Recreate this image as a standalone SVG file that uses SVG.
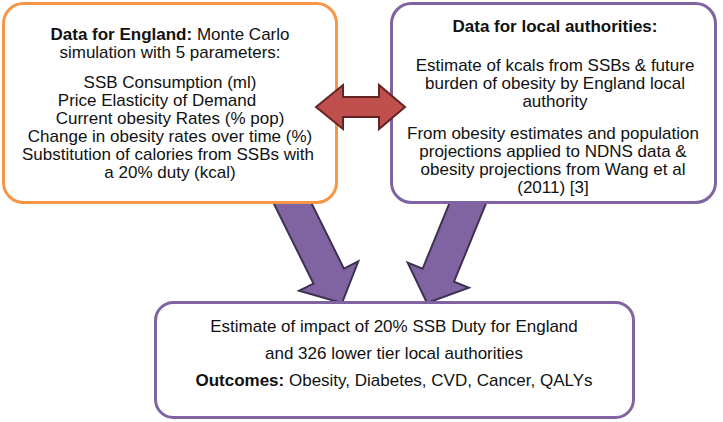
<svg xmlns="http://www.w3.org/2000/svg" width="723" height="422" viewBox="0 0 723 422">
<style>
text{font-family:"Liberation Sans",Arial,sans-serif;font-size:17px;fill:#111;text-anchor:middle}
.b{font-weight:bold}
.box{fill:#fff;stroke-width:3}
.org{stroke:#F79646}
.pur{stroke:#8064A2}
.arr{fill:#8064A2;stroke:#3F3151;stroke-width:2;stroke-linejoin:miter}
.red{fill:#C0504D;stroke:#632523;stroke-width:2}
</style>
<g id="connectors">
<polygon class="arr" points="300.2,180.5 343.9,268.6 358.3,261.4 342,303 299.1,290.8 313.5,283.6 269.8,195.5"/>
<polygon class="arr" points="489.7,194.4 454,281.6 468.9,287.7 427,303 407.7,262.7 422.6,268.8 458.3,181.6"/>
</g>
<g id="england">
<rect class="box org" x="3.5" y="3.5" width="333" height="199" rx="20"/>
<text x="170" y="40"><tspan class="b">Data for England:</tspan> Monte Carlo</text>
<text x="170" y="58">simulation with 5 parameters:</text>
<text x="170" y="88">SSB Consumption (ml)</text>
<text x="157" y="106">Price Elasticity of Demand</text>
<text x="170" y="124">Current obesity Rates (% pop)</text>
<text x="170" y="142">Change in obesity rates over time (%)</text>
<text x="168" y="160">Substitution of calories from SSBs with</text>
<text x="170" y="178">a 20% duty (kcal)</text>
</g>
<g id="local">
<rect class="box pur" x="391.5" y="3.5" width="324" height="199" rx="20"/>
<text class="b" x="555" y="32">Data for local authorities:</text>
<text x="555" y="71">Estimate of kcals from SSBs &amp; future</text>
<text x="555" y="89">burden of obesity by England local</text>
<text x="555" y="107">authority</text>
<text x="553" y="139">From obesity estimates and population</text>
<text x="553" y="157">projections applied to NDNS data &amp;</text>
<text x="553" y="175">obesity projections from Wang et al</text>
<text x="553" y="193">(2011) [3]</text>
</g>
<g id="outcome">
<rect class="box pur" x="155.5" y="302.5" width="478" height="115" rx="18"/>
<text x="394" y="332">Estimate of impact of 20% SSB Duty for England</text>
<text x="394" y="359">and 326 lower tier local authorities</text>
<text x="394" y="386"><tspan class="b">Outcomes:</tspan> Obesity, Diabetes, CVD, Cancer, QALYs</text>
</g>
<g id="link">
<polygon class="red" points="316,107 343,85 343,97 379,97 379,85 405,107 379,129 379,117 343,117 343,129"/>
</g>
</svg>
